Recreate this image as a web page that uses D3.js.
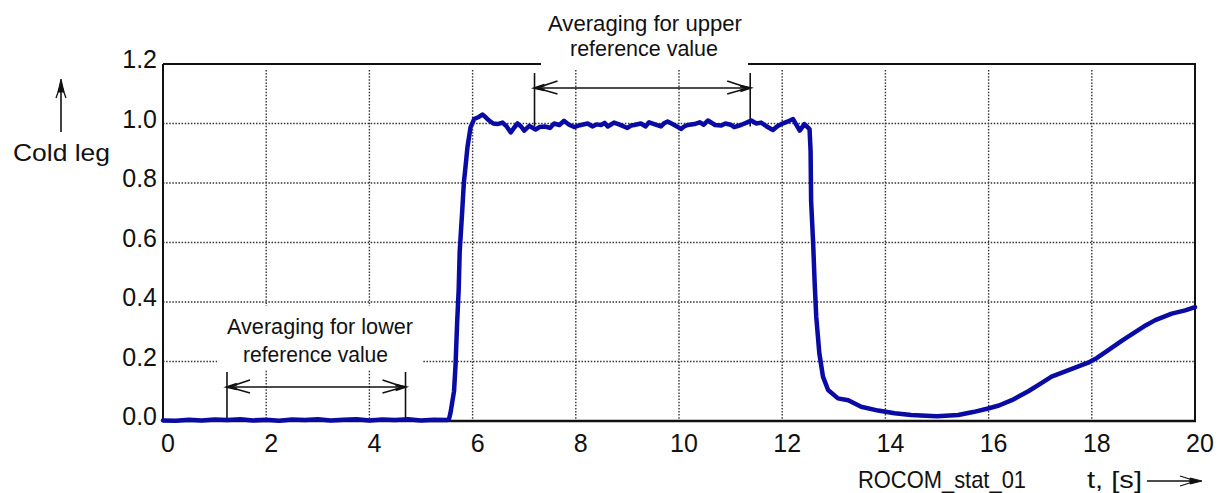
<!DOCTYPE html>
<html><head><meta charset="utf-8">
<script src="https://cdn.jsdelivr.net/npm/d3@7"></script>
<style>body{margin:0;background:#fff}svg{display:block}text{font-family:"Liberation Sans",Arial,sans-serif;fill:#111}</style>
</head><body><svg id="c" width="1223" height="493"></svg>
<script>
// ---- data ----
const timeS = [0,0.25,0.5,0.75,1,1.25,1.5,1.75,2,2.25,2.5,2.75,3,3.25,3.5,3.75,4,4.25,4.5,4.75,5,5.25,5.5,5.54,5.57,5.64,5.67,5.7,5.73,5.75,5.8,5.83,5.86,5.9,5.96,6.03,6.12,6.19,6.26,6.32,6.4,6.48,6.58,6.66,6.74,6.8,6.87,6.94,7.0,7.1,7.22,7.3,7.4,7.5,7.58,7.68,7.77,7.87,7.97,8.05,8.1,8.23,8.32,8.4,8.49,8.56,8.62,8.74,8.85,9.0,9.07,9.13,9.26,9.35,9.42,9.52,9.65,9.72,9.78,9.9,10.04,10.1,10.17,10.3,10.4,10.48,10.56,10.7,10.82,10.9,11.0,11.07,11.2,11.3,11.4,11.5,11.59,11.7,11.82,11.9,11.98,12.1,12.21,12.34,12.43,12.53,12.55,12.56,12.6,12.63,12.66,12.72,12.79,12.89,13.08,13.28,13.53,13.86,14.18,14.5,14.89,15.0,15.41,15.7,15.99,16.2,16.45,16.77,17.0,17.22,17.55,17.93,18.1,18.32,18.6,18.84,19.05,19.23,19.55,19.81,20.0];
const coldLeg = [0.002,0.001,0.004,0.002,0.005,0.003,0.006,0.002,0.004,0.001,0.005,0.003,0.006,0.002,0.004,0.006,0.002,0.005,0.003,0.006,0.002,0.004,0.003,0.005,0.026,0.10,0.19,0.33,0.44,0.57,0.71,0.80,0.85,0.92,0.987,1.015,1.022,1.03,1.02,1.01,1.0,0.998,1.003,0.99,0.97,0.985,1.0,0.99,0.976,0.992,0.98,0.988,0.99,0.985,1.0,0.995,1.009,0.996,0.988,0.993,0.995,1.0,0.99,0.997,0.995,1.002,0.99,1.003,0.996,0.985,0.993,0.995,1.0,0.99,1.004,0.998,0.99,1.002,1.007,0.996,0.982,0.99,0.995,0.998,1.004,0.996,1.01,0.995,0.993,1.0,0.996,0.988,0.995,1.002,1.01,1.0,1.003,0.99,0.978,0.99,0.998,1.006,1.015,0.976,0.998,0.981,0.908,0.741,0.596,0.46,0.35,0.227,0.149,0.104,0.076,0.07,0.048,0.035,0.026,0.02,0.017,0.016,0.02,0.03,0.042,0.052,0.07,0.10,0.125,0.149,0.171,0.196,0.212,0.238,0.272,0.299,0.322,0.339,0.361,0.372,0.383];
const xTicks = [0,2,4,6,8,10,12,14,16,18,20];
const yTicks = [0.0,0.2,0.4,0.6,0.8,1.0,1.2];
const yLabels = ["0.0","0.2","0.4","0.6","0.8","1.0","1.2"];
const lowerSpan = [1.24, 4.7];
const upperSpan = [7.2, 11.38];
const lowerText = ["Averaging for lower","reference value"];
const upperText = ["Averaging for upper","reference value"];
const yTitle = "Cold leg";
const xTitle = "ROCOM_stat_01";
const xUnit = "t, [s]";

// ---- layout ----
const svg = d3.select("#c");
const L = 163, R = 1195, T = 64, B = 421;
const x = d3.scaleLinear().domain([0,20]).range([L,R]);
const y = d3.scaleLinear().domain([0,1.2]).range([B,T]);
const ink = "#111";

// grid
const g = svg.append("g");
g.selectAll(".hg").data(yTicks.filter(v=>v>0 && v<1.2)).join("line")
  .attr("x1",L).attr("x2",R).attr("y1",d=>y(d)).attr("y2",d=>y(d))
  .attr("stroke","#333").attr("stroke-width",1.4).attr("stroke-dasharray","1.5,1.6");
g.selectAll(".vg").data(xTicks.filter(v=>v>0 && v<20)).join("line")
  .attr("x1",d=>x(d)).attr("x2",d=>x(d)).attr("y1",70).attr("y2",B)
  .attr("stroke","#333").attr("stroke-width",1.4).attr("stroke-dasharray","1.5,1.6");

// white box behind lower text
svg.append("rect").attr("x",217).attr("y",306).attr("width",205).attr("height",63).attr("fill","#fff");

// frame
const fr = svg.append("g").attr("stroke",ink).attr("stroke-width",2).attr("fill","none");
fr.append("line").attr("x1",L).attr("x2",L).attr("y1",T).attr("y2",B+1);
fr.append("line").attr("x1",R).attr("x2",R).attr("y1",T).attr("y2",B+1);
fr.append("line").attr("x1",L).attr("x2",R+1).attr("y1",B).attr("y2",B).attr("stroke-width",2.5);
fr.append("line").attr("x1",L).attr("x2",541).attr("y1",T).attr("y2",T);
fr.append("line").attr("x1",748).attr("x2",R+1).attr("y1",T).attr("y2",T);

// axes tick labels
svg.selectAll(".yl").data(yTicks).join("text")
  .attr("x",157).attr("y",d=>y(d)+4).attr("text-anchor","end")
  .attr("font-size",25).text((d,i)=>yLabels[i]);
svg.selectAll(".xl").data(xTicks).join("text")
  .attr("x",d=>x(d)+5).attr("y",452).attr("text-anchor","middle")
  .attr("font-size",25).text(d=>d);

// brackets
function bracket(span, yTop, yBot, yMid){
  const bg = svg.append("g").attr("stroke",ink).attr("stroke-width",1.6).attr("fill","none");
  const x0 = x(span[0]), x1 = x(span[1]);
  bg.append("line").attr("x1",x0).attr("x2",x0).attr("y1",yTop).attr("y2",yBot);
  bg.append("line").attr("x1",x1).attr("x2",x1).attr("y1",yTop).attr("y2",yBot);
  bg.append("line").attr("x1",x0).attr("x2",x1).attr("y1",yMid).attr("y2",yMid);
  bg.append("path").attr("d",`M${x0+23},${yMid-7}L${x0+2},${yMid}L${x0+23},${yMid+6}`);
  bg.append("path").attr("d",`M${x0+10},${yMid-3}L${x0+1},${yMid}L${x0+10},${yMid+2}`).attr("stroke-width",2.5);
  bg.append("path").attr("d",`M${x1-23},${yMid-7}L${x1-2},${yMid}L${x1-23},${yMid+6}`);
  bg.append("path").attr("d",`M${x1-10},${yMid-2}L${x1-1},${yMid}L${x1-10},${yMid+3}`).attr("stroke-width",2.5);
}
bracket(upperSpan, 73, y(0.99), 88);
bracket(lowerSpan, 372, B, 387);

// annotation text
function txt(s, x0, w, yb, fs){
  svg.append("text").attr("x",x0).attr("y",yb).attr("font-size",fs)
    .attr("textLength",w).attr("lengthAdjust","spacingAndGlyphs").text(s);
}
txt(upperText[0], 548, 194, 31, 22);
txt(upperText[1], 570, 148, 56, 22);
txt(lowerText[0], 227, 186, 334, 22);
txt(lowerText[1], 243, 145, 362, 22);
txt(yTitle, 13, 97, 161, 24);
txt(xTitle, 858, 168, 488, 24);
txt(xUnit, 1087, 55, 488, 24);

// y title arrow
const ya = svg.append("g").attr("stroke",ink).attr("fill",ink);
ya.append("line").attr("x1",61).attr("x2",61).attr("y1",82).attr("y2",132).attr("stroke-width",1.6);
ya.append("path").attr("d","M61,79L58,92L64,92Z").attr("stroke-width",1);
ya.append("path").attr("d","M61,84L56,98M61,84L66,98").attr("fill","none").attr("stroke-width",1.3);

// x title arrow
const xa = svg.append("g").attr("stroke",ink).attr("fill",ink);
xa.append("line").attr("x1",1147).attr("x2",1198).attr("y1",481).attr("y2",481).attr("stroke-width",1.6);
xa.append("path").attr("d","M1202,481L1190,478L1190,484Z").attr("stroke-width",1);
xa.append("path").attr("d","M1196,481L1180,476M1196,481L1180,486").attr("fill","none").attr("stroke-width",1.3);

// curve
const pts = timeS.map((t,i)=>[t,coldLeg[i]]);
svg.append("path").datum(pts)
  .attr("d", d3.line().x(d=>x(d[0])).y(d=>y(d[1])))
  .attr("fill","none").attr("stroke","#0a0aa5").attr("stroke-width",4.5)
  .attr("stroke-linejoin","round").attr("stroke-linecap","round");
</script></body></html>
